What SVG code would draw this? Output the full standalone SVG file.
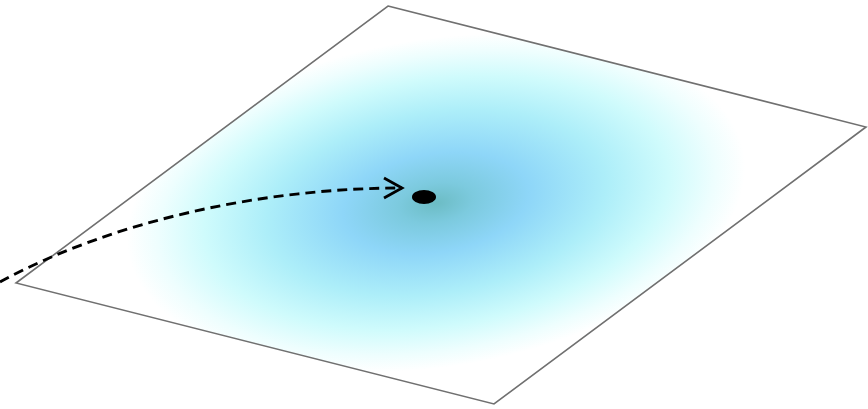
<svg xmlns="http://www.w3.org/2000/svg" width="868" height="409" viewBox="0 0 868 409">
  <defs>
    <radialGradient id="blob" gradientUnits="userSpaceOnUse" cx="0" cy="0" r="1" gradientTransform="translate(436,203) rotate(-9) scale(312,164)">
      <stop offset="0" stop-color="#6cbcc4"/>
      <stop offset="0.12" stop-color="#7ccade"/>
      <stop offset="0.3" stop-color="#8ed6f8"/>
      <stop offset="0.55" stop-color="#adeef9"/>
      <stop offset="0.75" stop-color="#cffbfc"/>
      <stop offset="0.9" stop-color="#eefefe"/>
      <stop offset="1" stop-color="#ffffff"/>
    </radialGradient>
    <marker id="open" viewBox="0 0 24 24" refX="20" refY="12" markerWidth="24" markerHeight="24" markerUnits="userSpaceOnUse" orient="auto">
      <path d="M2,2 L20,12 L2,22" fill="none" stroke="#000" stroke-width="2.8"/>
    </marker>
    <style>
      .plane { fill: url(#blob); stroke: #707070; stroke-width: 1.6; stroke-linejoin: miter; }
      .path { fill: none; stroke: #000; stroke-width: 2.9; stroke-dasharray: 10 6; }
    </style>
  </defs>
  <rect width="868" height="409" fill="#ffffff"/>
  <g id="plane">
    <polygon class="plane" points="388,6 866,127 494,404 16,283"/>
  </g>
  <g id="point">
    <ellipse cx="424" cy="197" rx="12" ry="7" fill="#000"/>
  </g>
  <g id="connectors">
    <path class="path" d="M0,282 C110,222 260,188 402,188" marker-end="url(#open)"/>
  </g>
</svg>
